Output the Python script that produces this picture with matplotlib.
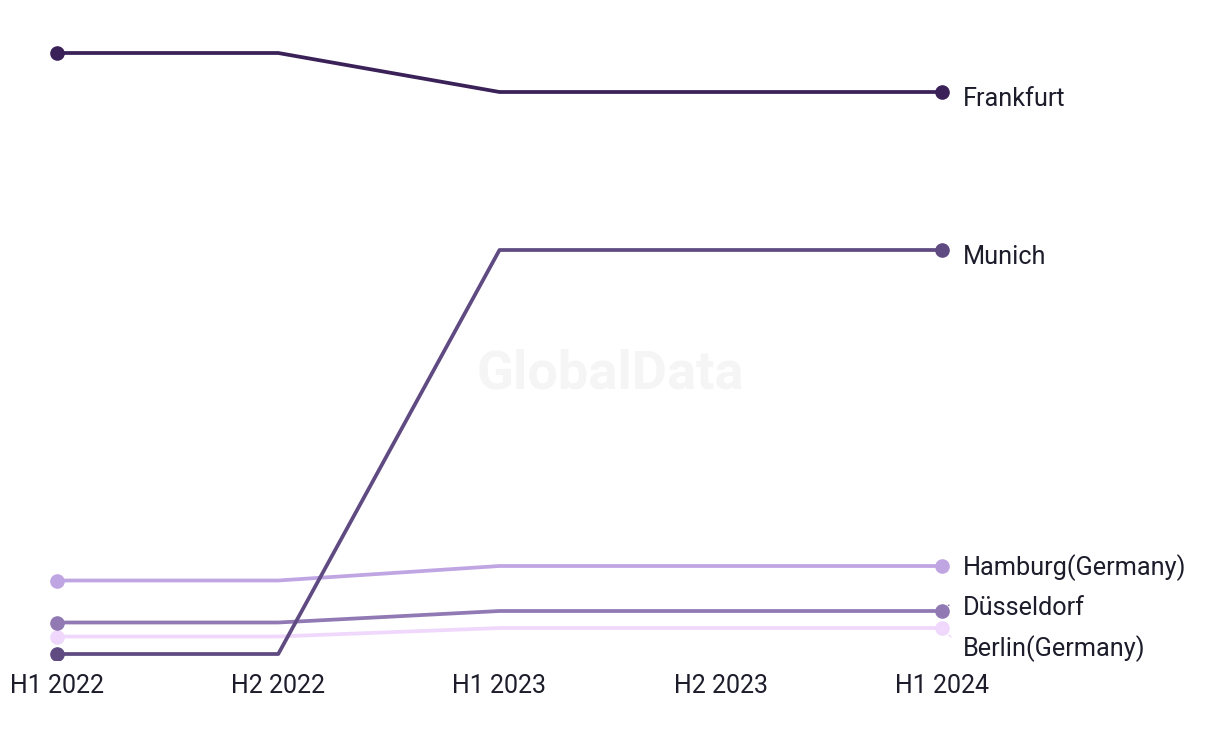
import matplotlib
matplotlib.use("Agg")
import matplotlib.pyplot as plt

periods = ["H1 2022", "H2 2022", "H1 2023", "H2 2023", "H1 2024"]
cities = ["Berlin(Germany)", "Düsseldorf", "Hamburg(Germany)", "Munich", "Frankfurt"]
frankfurt = [12.02, 12.02, 11.24, 11.24, 11.24]
munich = [0.0, 0.0, 8.08, 8.08, 8.08]
hamburg = [1.47, 1.47, 1.76, 1.76, 1.76]
duesseldorf = [0.63, 0.63, 0.86, 0.86, 0.86]
berlin = [0.35, 0.35, 0.52, 0.52, 0.52]
series = [berlin, duesseldorf, hamburg, munich, frankfurt]
colors = ["#f0d8fc", "#9179b3", "#c0a5e3", "#5f4a82", "#3a2158"]
# label offsets in pixels (x, y) relative to last point, baseline aligned
label_offsets = [(21, -28), (21, -4), (21, -9), (21, -14), (21, -14)]

plt.rcParams["font.family"] = ["Roboto", "DejaVu Sans"]

fig = plt.figure(figsize=(12.2, 7.44), dpi=100)
ax = fig.add_axes([0, 84 / 744, 1, 660 / 744])

x = list(range(len(periods)))
for name, vals, col, off in zip(cities, series, colors, label_offsets):
    ax.plot(x, vals, color=col, lw=2.7, solid_capstyle="round", zorder=2)
    ax.plot([x[0], x[-1]], [vals[0], vals[-1]], "o", color=col, ms=9.5, zorder=3)
    ax.annotate(name, (x[-1], vals[-1]), xytext=off, textcoords="offset pixels",
                ha="left", va="baseline", fontsize=18.2, color="#1c1c2b")

# small leader ticks next to the crowded labels
ax.annotate("", (x[-1], duesseldorf[-1]), xytext=(7, 6), textcoords="offset pixels",
            arrowprops=dict(arrowstyle="-", color=colors[1], lw=1, ls=(0, (2, 2)),
                            shrinkA=0, shrinkB=6))
ax.annotate("", (x[-1], berlin[-1]), xytext=(9, -9), textcoords="offset pixels",
            arrowprops=dict(arrowstyle="-", color=colors[0], lw=1, ls=(0, (2, 2)),
                            shrinkA=0, shrinkB=6))

fig.text(0.5, 0.497, "GlobalData", ha="center", va="center", fontsize=39,
         fontweight="bold", color="#f5f5f5", zorder=0)

ax.set_xticks(x)
ax.set_xticklabels(periods, fontsize=18, color="#1c1c2b")
ax.tick_params(axis="x", length=0, pad=10)
ax.set_yticks([])
ax.set_xlim(-57 / 221.25, (1220 - 57) / 221.25)
ax.set_ylim(-0.12, 13.08)
for s in ax.spines.values():
    s.set_visible(False)
ax.patch.set_alpha(0)

fig.savefig("out.png", dpi=100)
